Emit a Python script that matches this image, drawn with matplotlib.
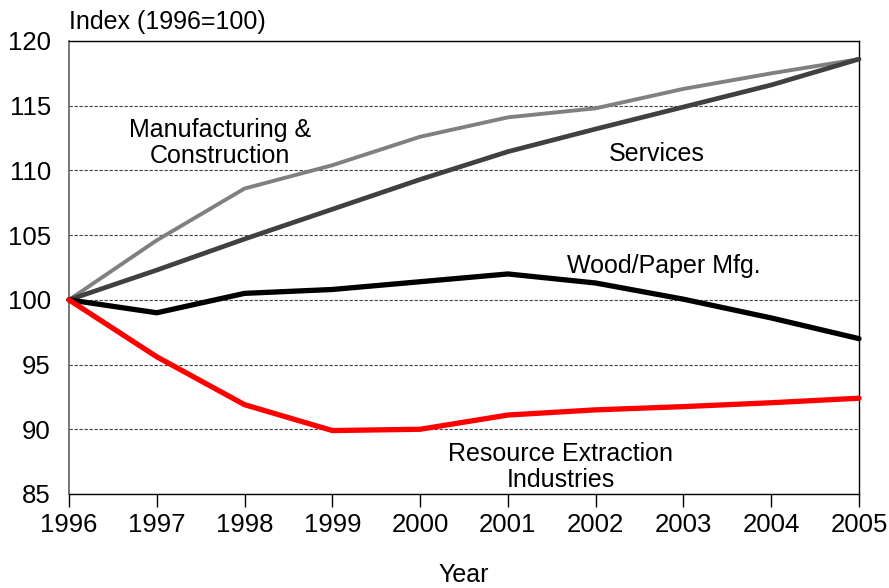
import matplotlib
matplotlib.use('Agg')
from matplotlib import pyplot as plt

plt.rcParams['font.family'] = ['Liberation Sans', 'DejaVu Sans']

years = [1996, 1997, 1998, 1999, 2000, 2001, 2002, 2003, 2004, 2005]
manuf = [100, 104.6, 108.6, 110.4, 112.6, 114.1, 114.8, 116.3, 117.5, 118.6]
services = [100, 102.3, 104.7, 107.0, 109.3, 111.45, 113.2, 114.9, 116.6, 118.6]
wood = [100, 99.0, 100.5, 100.8, 101.4, 102.0, 101.3, 100.05, 98.6, 97.0]
resource = [100, 95.6, 91.9, 89.9, 90.0, 91.1, 91.5, 91.75, 92.05, 92.4]

fig = plt.figure(figsize=(8.89, 5.88), dpi=100)
ax = fig.add_axes([0.0776, 0.1599, 0.8887, 0.7704])

ax.plot(years, manuf, color='#808080', lw=2.8, solid_capstyle='round', clip_on=False, zorder=3)
ax.plot(years, services, color='#404040', lw=3.4, solid_capstyle='round', clip_on=False, zorder=4)
ax.plot(years, wood, color='black', lw=3.8, solid_capstyle='round', clip_on=False, zorder=5)
ax.plot(years, resource, color='#ff0000', lw=3.8, solid_capstyle='round', clip_on=False, zorder=6)

ax.set_xlim(1996, 2005)
ax.set_ylim(85, 120)
ax.set_xticks(years)
ax.set_yticks(range(85, 121, 5))
ax.yaxis.grid(True, ls=(0, (3, 1.5)), color='#404040', lw=0.8)
ax.set_axisbelow(True)

ax.tick_params(axis='x', direction='out', length=9, width=1, pad=5, labelsize=18.5)
ax.tick_params(axis='y', length=0, pad=13, labelsize=18.5)

for s in ['top', 'right', 'bottom']:
    ax.spines[s].set_color('black')
    ax.spines[s].set_linewidth(1)
ax.spines['left'].set_color('#606060')
ax.spines['left'].set_linewidth(1.2)

ax.set_xlabel('Year', fontsize=18)
ax.xaxis.set_label_coords(0.5, -0.152)
fig.text(0.0776, 0.962, 'Index (1996=100)', fontsize=18, ha='left', va='center')

ax.text(1997.72, 112.1, 'Manufacturing &\nConstruction', fontsize=18, ha='center', va='center', linespacing=1.12)
ax.text(2002.69, 111.3, 'Services', fontsize=18, ha='center', va='center')
ax.text(2002.78, 102.6, 'Wood/Paper Mfg.', fontsize=18, ha='center', va='center')
ax.text(2001.6, 87.1, 'Resource Extraction\nIndustries', fontsize=18, ha='center', va='center', linespacing=1.12)

fig.savefig('out.png', dpi=100)
